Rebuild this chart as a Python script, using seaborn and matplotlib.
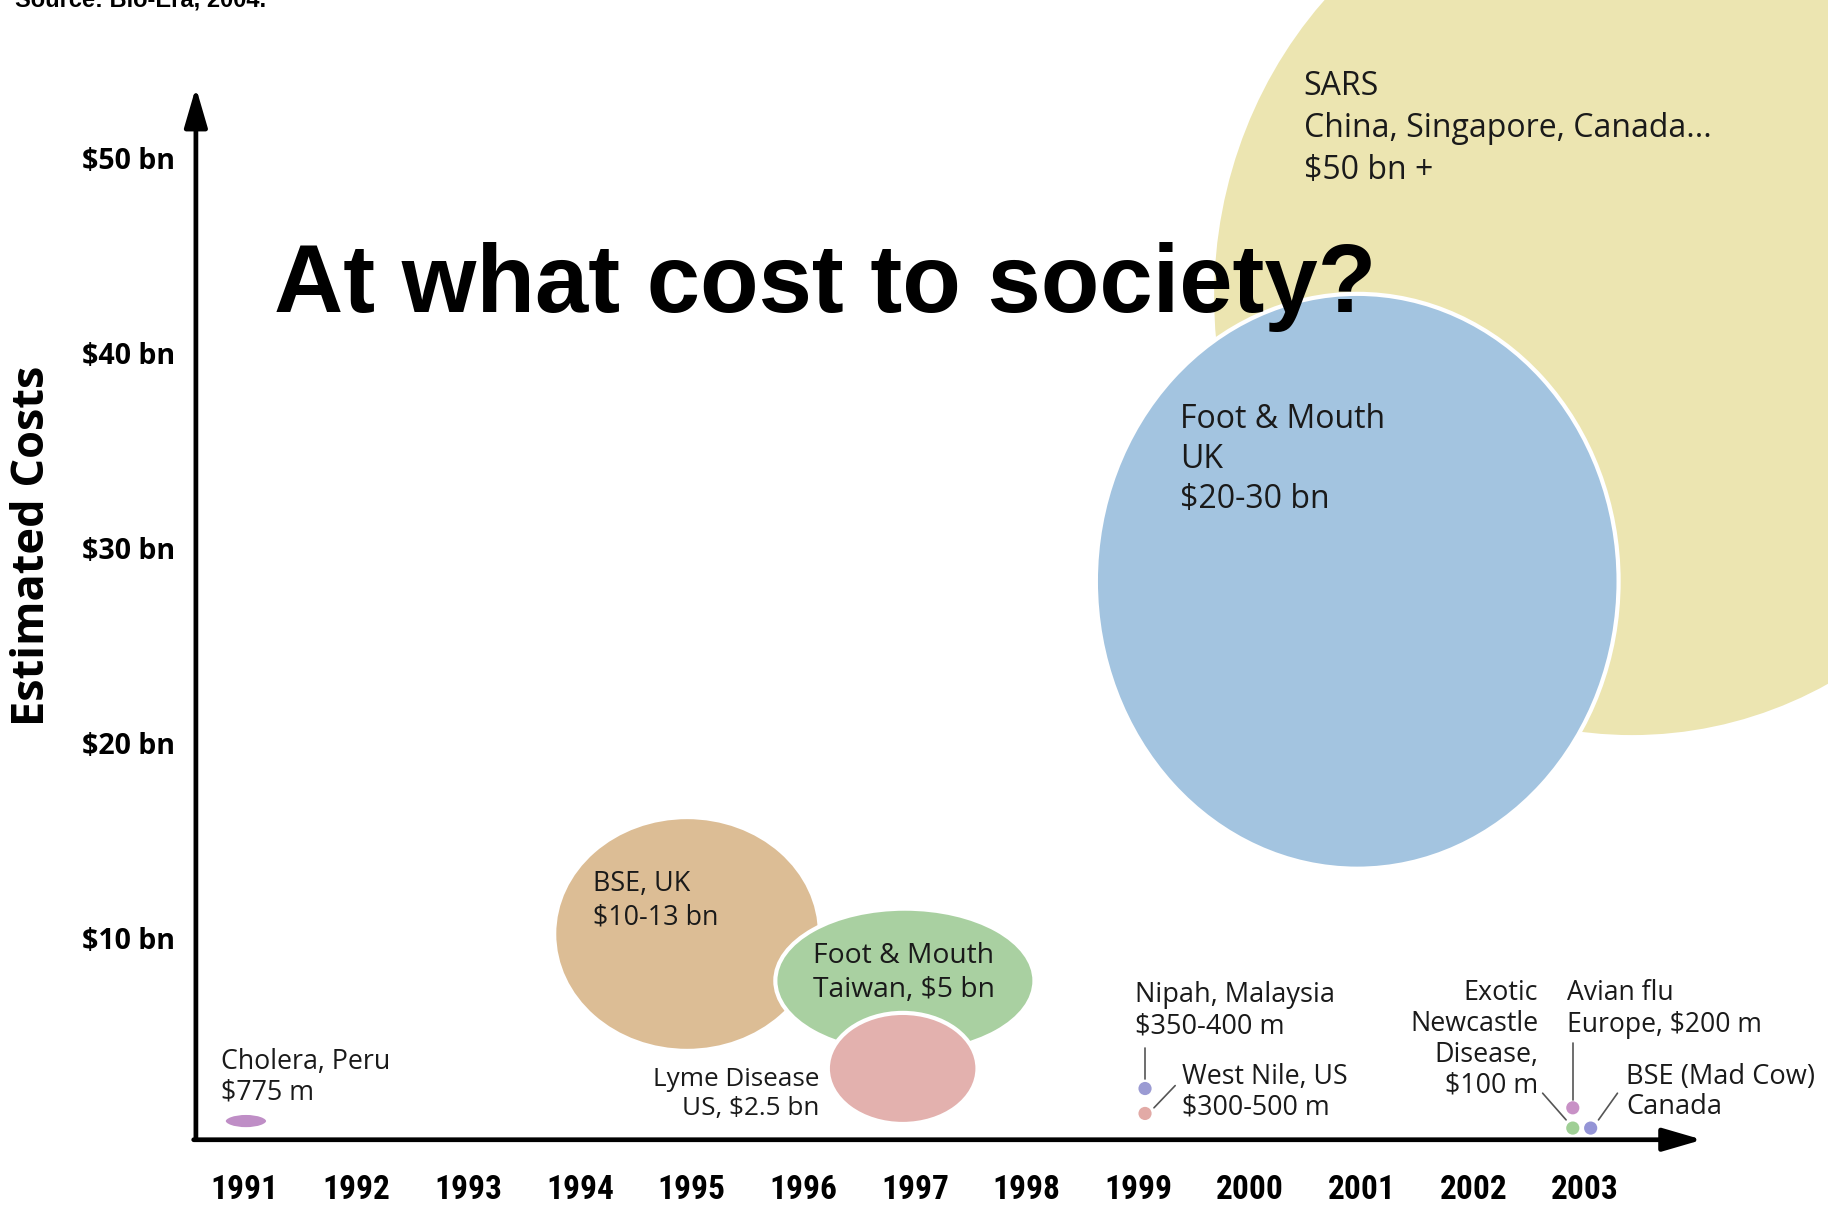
import numpy as np
import pandas as pd
import matplotlib
matplotlib.use('Agg')
import matplotlib.pyplot as plt
import seaborn as sns
from matplotlib.patches import Ellipse
from matplotlib import font_manager

# ---------------- dados ----------------
anos = [1991, 1992, 1993, 1994, 1995, 1996, 1997, 1998, 1999, 2000, 2001, 2002, 2003]
custos_ticks = [10, 20, 30, 40, 50]

# bolhas grandes (centro em ano / $bn, largura em anos, altura em $bn)
bolhas = ['SARS', 'Foot & Mouth UK', 'BSE UK', 'Foot & Mouth Taiwan', 'Lyme Disease', 'Cholera Peru']
bolha_ano = [2003.42, 2000.96, 1994.96, 1996.91, 1996.89, 1991.01]
bolha_custo = [42.9, 28.3, 10.2, 7.8, 3.3, 0.6]
bolha_larg = [7.52, 4.68, 2.38, 2.32, 1.34, 0.40]
bolha_alt = [45.2, 29.5, 12.0, 7.4, 5.7, 0.84]

# pontos pequenos
pontos = ['Nipah', 'West Nile', 'Avian flu', 'Exotic Newcastle', 'BSE Canada']
ponto_ano = [1999.06, 1999.06, 2002.89, 2002.89, 2003.05]
ponto_custo = [2.27, 0.99, 1.28, 0.24, 0.24]

# rótulos
rotulos = ['SARS\nChina, Singapore, Canada...\n$50 bn +',
           'Foot & Mouth\nUK\n$20-30 bn',
           'BSE, UK\n$10-13 bn',
           'Foot & Mouth\nTaiwan, $5 bn',
           'Lyme Disease\nUS, $2.5 bn',
           'Cholera, Peru\n$775 m',
           'Nipah, Malaysia\n$350-400 m',
           'West Nile, US\n$300-500 m',
           'Exotic\nNewcastle\nDisease,\n$100 m',
           'Avian flu\nEurope, $200 m',
           'BSE (Mad Cow)\nCanada']
rotulo_ano = [2000.48, 1999.37, 1994.12, 1996.90, 1996.14, 1990.79, 1998.97, 1999.39, 2002.58, 2002.84, 2003.37]
rotulo_custo = [54.55, 37.44, 13.46, 9.81, 3.35, 4.37, 7.78, 3.59, 7.89, 7.89, 3.59]

# ---------------- estilo ----------------
cores_bolha = ['#ece5b1', '#a3c4e0', '#dcbd95', '#a9d0a1', '#e3b1ae', '#bf8ec6']
cores_ponto = ['#9b9bd3', '#e2aaa6', '#c891c6', '#9fcf95', '#9494d6']
tam_rotulo = [23, 23, 19.4, 20.3, 18.8, 19.3, 19.5, 19.3, 19.4, 19.1, 19.6]
esp_rotulo = [1.36, 1.28, 1.22, 1.3, 1.18, 1.12, 1.17, 1.12, 1.14, 1.17, 1.12]
ha_rotulo = ['left', 'left', 'left', 'center', 'right', 'left', 'left', 'left', 'right', 'left', 'left']

sns.set_theme(style='white')
disponiveis = {f.name for f in font_manager.fontManager.ttflist}
estreita = 'Open Sans'
for nome in ['Liberation Sans Narrow', 'Roboto Condensed', 'Open Sans Condensed']:
    if nome in disponiveis:
        estreita = nome
        break
plt.rcParams['font.family'] = ['Open Sans', 'DejaVu Sans']
plt.rcParams['text.color'] = 'black'
plt.rcParams['xtick.color'] = 'black'
plt.rcParams['ytick.color'] = 'black'

fig = plt.figure(figsize=(18.28, 12.05), dpi=100)
ax = fig.add_axes([0, 0, 1, 1])
ax.set_xlim(1988.808, 2005.175)
ax.set_ylim(-3.708, 58.13)

# bolhas
for i in range(len(bolhas)):
    e = Ellipse((bolha_ano[i], bolha_custo[i]), bolha_larg[i], bolha_alt[i],
                facecolor=cores_bolha[i], edgecolor='white', linewidth=3, zorder=2 + i * 0.1)
    ax.add_patch(e)

df_pontos = pd.DataFrame({'ano': ponto_ano, 'custo': ponto_custo, 'nome': pontos})
sns.scatterplot(data=df_pontos, x='ano', y='custo', hue='nome', palette=cores_ponto,
                s=90, edgecolor='none', legend=False, ax=ax, zorder=4)
ax.set_xlabel('')
ax.set_ylabel('')

# linhas de chamada (relativas aos pontos)
cinza = '#555555'
ax.plot([ponto_ano[0]] * 2, [ponto_custo[0] + 0.48, ponto_custo[0] + 2.1], color=cinza, lw=1.2, zorder=4)
ax.plot([ponto_ano[1] + 0.08, ponto_ano[1] + 0.27], [ponto_custo[1] + 0.29, ponto_custo[1] + 1.43], color=cinza, lw=1.2, zorder=4)
ax.plot([ponto_ano[2]] * 2, [ponto_custo[2] + 0.42, ponto_custo[2] + 3.33], color=cinza, lw=1.2, zorder=4)
ax.plot([ponto_ano[3] - 0.06, ponto_ano[3] - 0.27], [ponto_custo[3] + 0.42, ponto_custo[3] + 1.79], color=cinza, lw=1.2, zorder=4)
ax.plot([ponto_ano[4] + 0.07, ponto_ano[4] + 0.24], [ponto_custo[4] + 0.42, ponto_custo[4] + 1.79], color=cinza, lw=1.2, zorder=4)

for i, txt in enumerate(rotulos):
    ax.text(rotulo_ano[i], rotulo_custo[i], txt.replace('$', r'\$'), fontsize=tam_rotulo[i],
            ha=ha_rotulo[i], multialignment=ha_rotulo[i], va='top', linespacing=esp_rotulo[i],
            color='#1a1a1a', zorder=6)

# eixos com setas
x0, y0 = 1990.562, -0.359
ax.spines['left'].set_position(('data', x0))
ax.spines['bottom'].set_position(('data', y0))
for s in ax.spines.values():
    s.set_visible(False)
ax.set_xticks(anos)
ax.set_xticklabels([str(a) for a in anos], fontsize=24, fontweight='bold', family=[estreita, 'DejaVu Sans'])
ax.set_yticks(custos_ticks)
ax.set_yticklabels([r'\$%d bn' % c for c in custos_ticks], fontsize=20.5, fontweight='bold')
ax.tick_params(axis='x', length=0, pad=25)
ax.tick_params(axis='y', length=0, pad=15)
ax.grid(False)

seta = dict(arrowstyle='-|>,head_length=2.4,head_width=0.7', lw=3.4, color='black',
            shrinkA=0, shrinkB=0, mutation_scale=10)
ax.annotate('', xy=(x0, 53.65), xytext=(x0, y0), arrowprops=seta, zorder=7)
ax.annotate('', xy=(2004.05, y0), xytext=(x0 - 0.02, y0), arrowprops=seta, zorder=7)

ax.text(0.018, 0.547, 'Estimated Costs', transform=ax.transAxes, rotation=90,
        ha='center', va='center', fontsize=32.5, fontweight='bold')

fig.text(0.150, 0.741, 'At what cost to society?', fontsize=69, fontweight='bold',
         family=['Liberation Sans', 'DejaVu Sans'], va='baseline', color='black', zorder=10)
fig.text(0.0082, 0.995, 'Source: Bio-Era, 2004.', fontsize=17, fontweight='bold',
         family=['Liberation Sans', 'DejaVu Sans'], va='baseline', color='black')

fig.savefig('out.png', dpi=100)
